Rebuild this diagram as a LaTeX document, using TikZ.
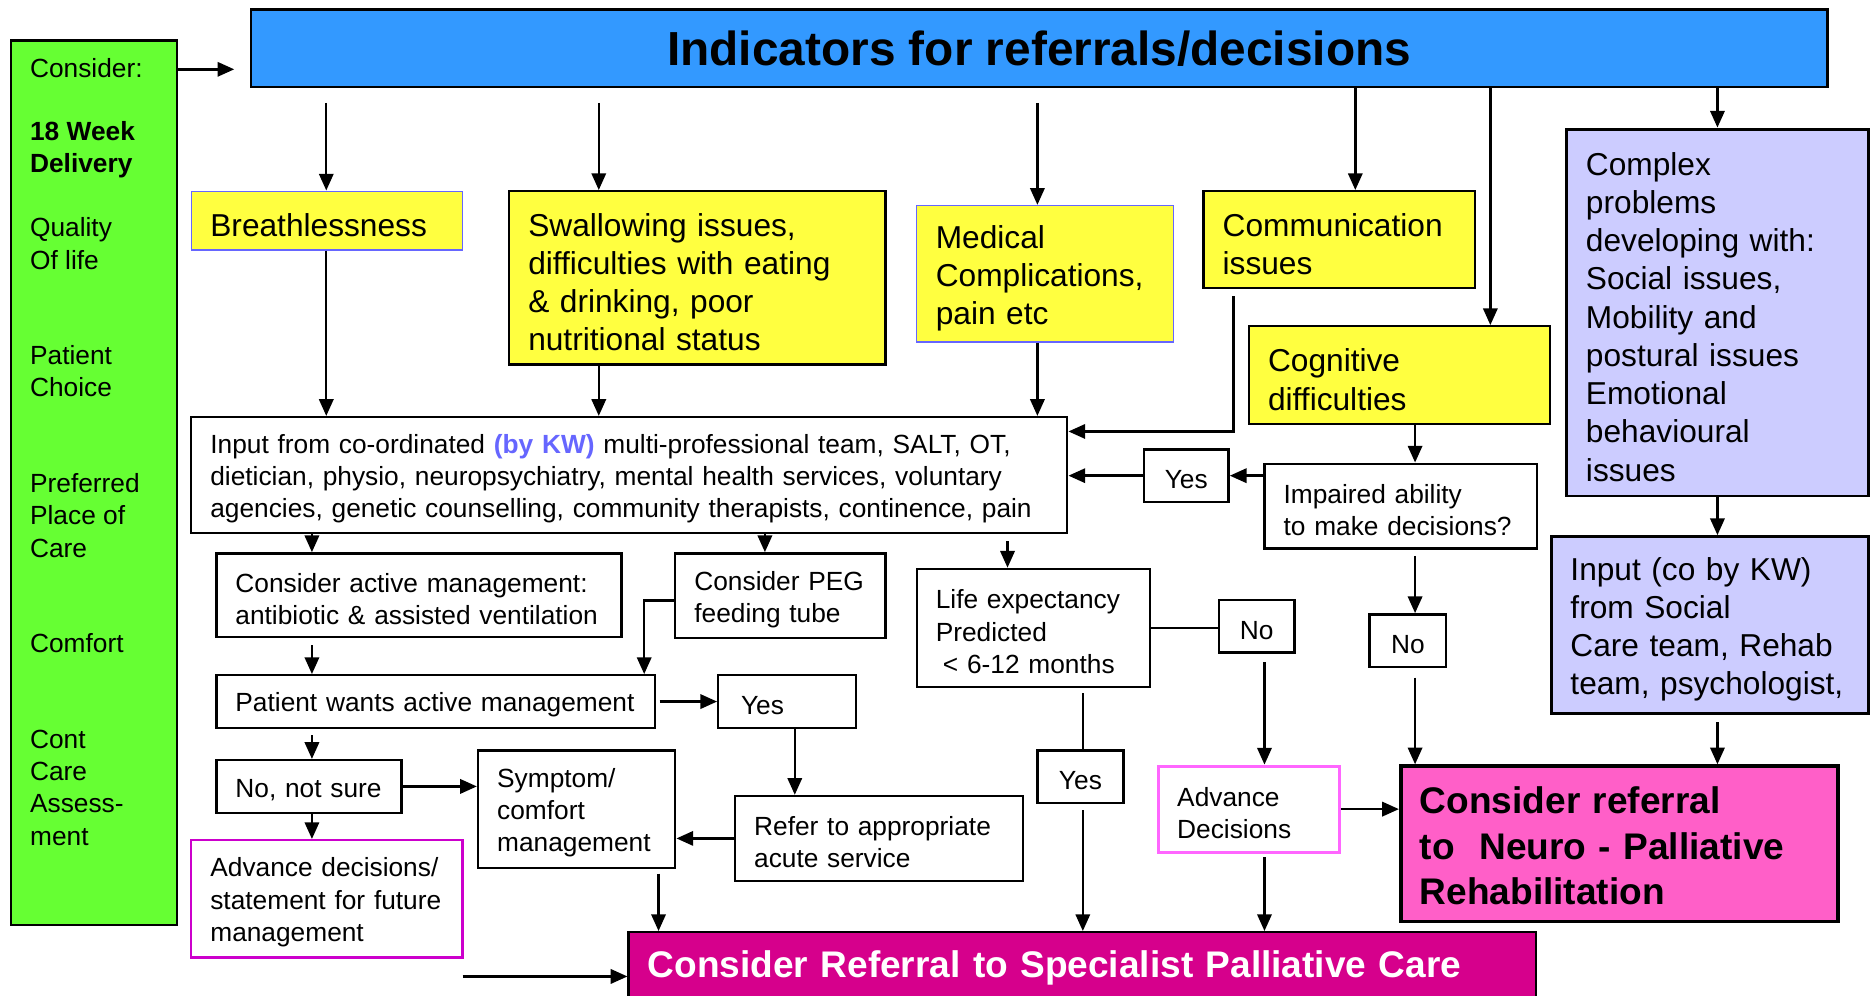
\documentclass[tikz,border=0pt]{standalone}
\usepackage{fontspec}
\setmainfont{Liberation Sans}
\usetikzlibrary{arrows.meta}
\definecolor{consgreen}{RGB}{102,255,51}
\definecolor{headblue}{RGB}{51,153,255}
\definecolor{issueyellow}{RGB}{255,255,64}
\definecolor{lilac}{RGB}{204,204,255}
\definecolor{kwblue}{RGB}{102,102,255}
\definecolor{neuropink}{RGB}{255,95,200}
\definecolor{spcmagenta}{RGB}{214,0,140}
\definecolor{advmagenta}{RGB}{204,0,204}
\definecolor{advpink}{RGB}{255,102,255}

\begin{document}
\begin{tikzpicture}[x=1pt, y=-1pt,
        frame/.style = {draw=black, line width=2pt, fill=white, align=left, inner xsep=16pt, inner ysep=1pt, font=\fontsize{22}{27}\selectfont},
        box/.style = {frame, execute at begin node={\rule{0pt}{1em}}},
        tag/.style = {box, align=center, inner xsep=2pt},
        issue/.style = {box, fill=issueyellow, font=\fontsize{26.5}{32}\selectfont},
        lilacbox/.style = {issue, fill=lilac, line width=2.5pt},
        referral/.style = {frame, line width=3pt, font=\fontsize{31}{38}\selectfont\bfseries, execute at begin node={\rule{0pt}{0.85em}}},
        arr/.style = {line width=2pt, -{Triangle[length=14pt,width=12pt]}},
        link/.style = {line width=2pt}]
    \useasboundingbox (0,0) rectangle (1568,833);
    \clip (0,0) rectangle (1568,833);

    % left column
    \node[frame, fill=consgreen, minimum width=139pt, minimum height=740pt, anchor=north west, inner sep=0pt] (consider) at (8,33) {};
    \node[anchor=north west, inner sep=0pt, align=left, font=\fontsize{22}{27}\selectfont] (considertxt) at (25,49)
        {Consider:\\[25pt] \textbf{18 Week}\\ \textbf{Delivery}\\[27pt] Quality\\ Of life\\[53pt] Patient\\ Choice\\[53pt]
         Preferred\\ Place of\\ Care\\[53pt] Comfort\\[53pt] Cont\\ Care\\ Assess-\\ ment};

    \node[frame, fill=headblue, minimum width=1319pt, minimum height=65pt, align=center, font=\fontsize{40}{48}\selectfont\bfseries] (title) at (869.5,40.5) {Indicators for referrals/decisions};

    % indicators
    \node[issue, draw=kwblue, line width=1.2pt, text width=195pt, minimum height=49pt] (breath) at (273.5,184.5) {Breathlessness};
    \node[issue, text width=283pt, minimum height=145pt] (swallow) at (583.5,232.5) {Swallowing issues,\\ difficulties with eating\\ \& drinking, poor\\ nutritional status};
    \node[issue, draw=kwblue, line width=1.2pt, text width=183pt, minimum height=114pt] (medical) at (874.5,229) {Medical\\ Complications,\\ pain etc};
    \node[issue, text width=195pt, minimum height=81pt] (commun) at (1120.5,200.5) {Communication\\ issues};
    \node[issue, text width=220pt, minimum height=82pt] (cognit) at (1171,314) {Cognitive\\ difficulties};
    \node[lilacbox, text width=220pt, minimum height=307pt] (problems) at (1437,261.5) {Complex\\ problems\\ developing with:\\ Social issues,\\ Mobility and\\ postural issues\\ Emotional\\ behavioural\\ issues};

    \node[box, text width=701pt, minimum height=97pt] (input) at (526.5,397.5) {Input from co-ordinated \textcolor{kwblue}{\textbf{(by KW)}} multi-professional team, SALT, OT,\\ dietician, physio, neuropsychiatry, mental health services, voluntary\\ agencies, genetic counselling, community therapists, continence, pain};
    \node[tag, minimum width=71pt, minimum height=44pt] (yesA) at (992.5,398) {Yes};
    \node[box, text width=196pt, minimum height=71pt] (impaired) at (1172,423.5) {Impaired ability\\ to make decisions?};
    \node[tag, minimum width=64pt, minimum height=44pt] (noB) at (1178,536) {No};
    \node[lilacbox, text width=233pt, minimum height=148pt] (social) at (1430.5,523) {Input (co by KW)\\ from Social\\ Care team, Rehab\\ team, psychologist,};
    \node[referral, fill=neuropink, text width=334pt, minimum height=130pt] (neuro) at (1355,706) {Consider referral\\ to\ \ Neuro - Palliative\\ Rehabilitation};

    % decisions
    \node[box, text width=307pt, minimum height=70pt] (active) at (350.5,498) {Consider active management:\\ antibiotic \& assisted ventilation};
    \node[box, text width=144pt, minimum height=71pt] (peg) at (653,498.5) {Consider PEG\\ feeding tube};
    \node[box, text width=163pt, minimum height=99pt] (life) at (864.5,525.5) {Life expectancy\\ Predicted\\ \hspace*{6pt}< 6-12 months};
    \node[tag, minimum width=63pt, minimum height=44pt] (noA) at (1051.5,524) {No};
    \node[box, text width=335pt, minimum height=44pt] (wants) at (364.5,587) {Patient wants active management};
    \node[box, inner xsep=19pt, text width=77pt, minimum height=44pt] (yesB) at (658.5,587) {Yes};
    \node[box, text width=123pt, minimum height=44pt] (notsure) at (258.5,658) {No, not sure};
    \node[box, text width=133pt, minimum height=98pt] (symptom) at (482.5,677) {Symptom/\\ comfort\\ management};
    \node[box, text width=209pt, minimum height=71pt] (acute) at (735.5,701.5) {Refer to appropriate\\ acute service};
    \node[tag, minimum width=72pt, minimum height=44pt] (yesC) at (904,650) {Yes};
    \node[box, draw=advpink, line width=2.5pt, text width=120pt, minimum height=72pt] (advdec) at (1045,677) {Advance\\ Decisions};
    \node[box, draw=advmagenta, text width=195pt, minimum height=98pt] (advance) at (273.5,752) {Advance decisions/\\ statement for future\\ management};
    \node[referral, line width=2pt, fill=spcmagenta, text=white, text width=727pt, minimum height=56pt] (palliative) at (905.5,808) {Consider Referral to Specialist Palliative Care};

    % columns and rows of the links
    \coordinate (rowcons) at (0,58);
    \coordinate (colbr) at (273,0);
    \coordinate (colsw) at (501,0);
    \coordinate (colmd) at (868,0);
    \coordinate (colcd) at (1032,0);
    \coordinate (colcm) at (1134,0);
    \coordinate (colcg) at (1247,0);
    \coordinate (colcx) at (1437,0);
    \coordinate (colim) at (1184,0);
    \coordinate (colac) at (261,0);
    \coordinate (colpe) at (539,0);
    \coordinate (colpg) at (640,0);
    \coordinate (colle) at (843,0);
    \coordinate (colye) at (665,0);
    \coordinate (colsy) at (551,0);
    \coordinate (colyc) at (906,0);
    \coordinate (colad) at (1058,0);
    \coordinate (free) at (387,817);

    \draw[arr, shorten >=13pt] (consider.east |- rowcons) -- (title.west |- rowcons);
    \draw[arr, shorten <=12pt] (title.south -| colbr) -- (breath.north -| colbr);
    \draw[arr, shorten <=12pt] (title.south -| colsw) -- (swallow.north -| colsw);
    \draw[arr, shorten <=12pt] (title.south -| colmd) -- (medical.north -| colmd);
    \draw[arr] (title.south -| colcm) -- (commun.north -| colcm);
    \draw[arr] (title.south -| colcg) -- (cognit.north -| colcg);
    \draw[arr] (title.south -| colcx) -- (problems.north -| colcx);

    \draw[arr] (breath.south -| colbr) -- (input.north -| colbr);
    \draw[arr] (swallow.south -| colsw) -- (input.north -| colsw);
    \draw[arr] (medical.south -| colmd) -- (input.north -| colmd);
    \draw[arr, shorten <=6pt] (commun.south -| colcd) |- ([yshift=-13pt]input.north east);
    \draw[arr] (yesA.west) -- (input.east |- yesA.west);
    \draw[arr] (impaired.west |- yesA.east) -- (yesA.east);
    \draw[arr] (cognit.south -| colim) -- (impaired.north -| colim);
    \draw[arr, shorten <=5pt] (impaired.south -| colim) -- (noB.north -| colim);
    \draw[arr, shorten <=8pt] (noB.south -| colim) -- (neuro.north -| colim);
    \draw[arr] (problems.south -| colcx) -- (social.north -| colcx);
    \draw[arr, shorten <=6pt] (social.south -| colcx) -- (neuro.north -| colcx);

    \draw[arr] (input.south -| colac) -- (active.north -| colac);
    \draw[arr] (input.south -| colpg) -- (peg.north -| colpg);
    \draw[arr, shorten <=6pt] (input.south -| colle) -- (life.north -| colle);
    \draw[arr, shorten <=6pt] (active.south -| colac) -- (wants.north -| colac);
    \draw[arr] ([yshift=-4pt]peg.west) -| (colpe |- wants.north);
    \draw[arr, shorten <=3pt] (wants.east) -- (yesB.west);
    \draw[arr] (yesB.south -| colye) -- (acute.north -| colye);
    \draw[arr] (acute.west) -- (symptom.east |- acute.west);
    \draw[arr, shorten <=5pt] (wants.south -| colac) -- (notsure.north -| colac);
    \draw[arr] (notsure.east) -- (symptom.west |- notsure.east);
    \draw[arr] (notsure.south -| colac) -- (advance.north -| colac);
    \draw[arr] (free) -- (palliative.west |- free);
    \draw[arr, shorten <=4pt] (symptom.south -| colsy) -- (palliative.north -| colsy);

    \draw[link, shorten <=4pt] (life.south -| colyc) -- (yesC.north -| colyc);
    \draw[arr, shorten <=5pt] (yesC.south -| colyc) -- (palliative.north -| colyc);
    \draw[link] (life.east) -- (noA.west |- life.east);
    \draw[arr, shorten <=7pt] (noA.south -| colad) -- (advdec.north -| colad);
    \draw[arr, shorten <=3pt] (advdec.south -| colad) -- (palliative.north -| colad);
    \draw[arr] (advdec.east) -- (neuro.west |- advdec.east);
\end{tikzpicture}
\end{document}
